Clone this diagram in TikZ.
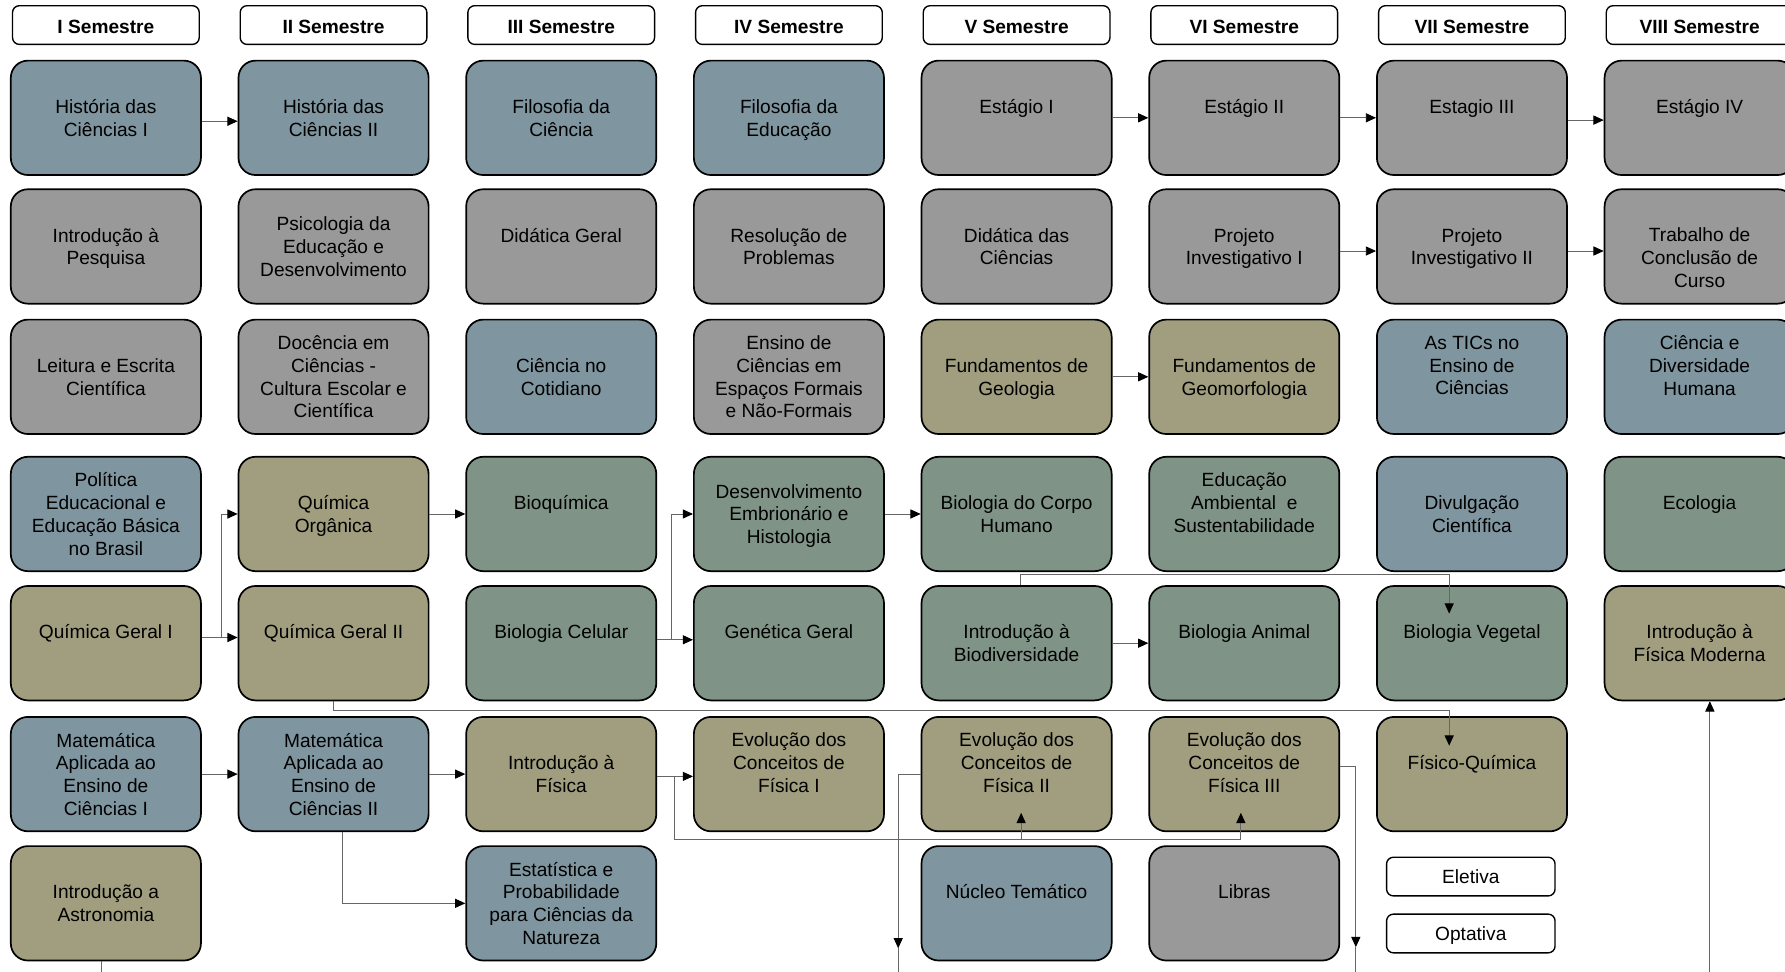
\documentclass[tikz,border=0pt]{standalone}
\usepackage{fontspec}
\setmainfont{Liberation Sans}
\usetikzlibrary{arrows.meta}

\definecolor{azul}{RGB}{127,149,159}
\definecolor{cinza}{RGB}{153,153,153}
\definecolor{oliva}{RGB}{160,158,126}
\definecolor{verde}{RGB}{127,148,135}

\tikzset{
  disc/.style={draw, fill=#1, line width=1.5pt, rounded corners=15pt,
    minimum width=167pt, minimum height=100.5pt, inner sep=0pt,
    align=center, font=\fontsize{16.8}{20}\selectfont,
    text depth=-4pt},
  semestre/.style={draw, fill=white, line width=1.2pt, rounded corners=6pt,
    minimum width=164pt, minimum height=34pt, inner sep=0pt,
    text height=14.2pt, text depth=0pt,
    font=\fontsize{16.8}{20}\selectfont\bfseries},
  legenda/.style={draw, fill=white, line width=1.2pt, rounded corners=6pt,
    minimum width=148pt, minimum height=34pt, inner sep=0pt,
    text height=12.5pt, text depth=0pt,
    font=\fontsize{16.8}{20}\selectfont},
  seta/.style={draw=black!60, line width=0.8pt,
    -{Triangle[length=9pt,width=8pt,color=black]}},
  fio/.style={draw=black!60, line width=0.8pt}
}

\begin{document}
\begin{tikzpicture}[x=1pt, y=-1pt]
      \useasboundingbox (0,0) rectangle (1568,853);
      \clip (0,0) rectangle (1568,853);
      % semestres
      \node[semestre] (sem1) at (93,22) {I Semestre};
      \node[semestre] (sem2) at (293,22) {II Semestre};
      \node[semestre] (sem3) at (493,22) {III Semestre};
      \node[semestre] (sem4) at (693,22) {IV Semestre};
      \node[semestre] (sem5) at (893,22) {V Semestre};
      \node[semestre] (sem6) at (1093,22) {VI Semestre};
      \node[semestre] (sem7) at (1293,22) {VII Semestre};
      \node[semestre] (sem8) at (1493,22) {VIII Semestre};
      % linha 1
      \node[disc=azul] (hist1) at (93,103.5) {História das\\Ciências I};
      \node[disc=azul] (hist2) at (293,103.5) {História das\\Ciências II};
      \node[disc=azul] (filc) at (493,103.5) {Filosofia da\\Ciência};
      \node[disc=azul] (filed) at (693,103.5) {Filosofia da\\Educação};
      \node[disc=cinza] (est1) at (893,103.5) {Estágio I\\~};
      \node[disc=cinza] (est2) at (1093,103.5) {Estágio II\\~};
      \node[disc=cinza] (est3) at (1293,103.5) {Estagio III\\~};
      \node[disc=cinza] (est4) at (1493,103.5) {Estágio IV\\~};
      % linha 2
      \node[disc=cinza] (intpesq) at (93,216.5) {Introdução à\\Pesquisa};
      \node[disc=cinza] (psico) at (293,216.5) {Psicologia da\\Educação e\\Desenvolvimento};
      \node[disc=cinza] (didger) at (493,216.5) {Didática Geral\\~};
      \node[disc=cinza] (resol) at (693,216.5) {Resolução de\\Problemas};
      \node[disc=cinza] (didcie) at (893,216.5) {Didática das\\Ciências};
      \node[disc=cinza] (proj1) at (1093,216.5) {Projeto\\Investigativo I};
      \node[disc=cinza] (proj2) at (1293,216.5) {Projeto\\Investigativo II};
      \node[disc=cinza] (tcc) at (1493,216.5) {\vphantom{T}\\Trabalho de\\Conclusão de\\Curso};
      % linha 3
      \node[disc=cinza] (leit) at (93,331) {Leitura e Escrita\\Científica};
      \node[disc=cinza] (doc) at (293,331) {Docência em\\Ciências -\\Cultura Escolar e\\Científica};
      \node[disc=azul] (cotid) at (493,331) {Ciência no\\Cotidiano};
      \node[disc=cinza] (espac) at (693,331) {Ensino de\\Ciências em\\Espaços Formais\\e Não-Formais};
      \node[disc=oliva] (geol) at (893,331) {Fundamentos de\\Geologia};
      \node[disc=oliva] (geom) at (1093,331) {Fundamentos de\\Geomorfologia};
      \node[disc=azul] (tics) at (1293,331) {As TICs no\\Ensino de\\Ciências\\~};
      \node[disc=azul] (divers) at (1493,331) {Ciência e\\Diversidade\\Humana\\~};
      % linha 4
      \node[disc=azul] (polit) at (93,451.5) {Política\\Educacional e\\Educação Básica\\no Brasil};
      \node[disc=oliva] (qorg) at (293,451.5) {Química\\Orgânica};
      \node[disc=verde] (bioq) at (493,451.5) {Bioquímica\\~};
      \node[disc=verde] (desemb) at (693,451.5) {Desenvolvimento\\Embrionário e\\Histologia};
      \node[disc=verde] (corpo) at (893,451.5) {Biologia do Corpo\\Humano};
      \node[disc=verde] (eamb) at (1093,451.5) {Educação\\Ambiental~ e\\Sustentabilidade\\~};
      \node[disc=azul] (divulg) at (1293,451.5) {Divulgação\\Científica};
      \node[disc=verde] (ecol) at (1493,451.5) {Ecologia\\~};
      % linha 5
      \node[disc=oliva] (qg1) at (93,565) {Química Geral I\\~};
      \node[disc=oliva] (qg2) at (293,565) {Química Geral II\\~};
      \node[disc=verde] (biocel) at (493,565) {Biologia Celular\\~};
      \node[disc=verde] (genet) at (693,565) {Genética Geral\\~};
      \node[disc=verde] (biodiv) at (893,565) {Introdução à\\Biodiversidade};
      \node[disc=verde] (bioani) at (1093,565) {Biologia Animal\\~};
      \node[disc=verde] (biovege) at (1293,565) {Biologia Vegetal\\~};
      \node[disc=oliva] (fismod) at (1493,565) {Introdução à\\Física Moderna};
      % linha 6
      \node[disc=azul] (mat1) at (93,680) {Matemática\\Aplicada ao\\Ensino de\\Ciências I};
      \node[disc=azul] (mat2) at (293,680) {Matemática\\Aplicada ao\\Ensino de\\Ciências II};
      \node[disc=oliva] (intfis) at (493,680) {Introdução à\\Física};
      \node[disc=oliva] (evf1) at (693,680) {Evolução dos\\Conceitos de\\Física I\\~};
      \node[disc=oliva] (evf2) at (893,680) {Evolução dos\\Conceitos de\\Física II\\~};
      \node[disc=oliva] (evf3) at (1093,680) {Evolução dos\\Conceitos de\\Física III\\~};
      \node[disc=oliva] (fisqui) at (1293,680) {Físico-Química\\~};
      % linha 7
      \node[disc=oliva] (astro) at (93,793.5) {Introdução a\\Astronomia};
      \node[disc=azul] (estat) at (493,793.5) {Estatística e\\Probabilidade\\para Ciências da\\Natureza};
      \node[disc=azul] (nucleo) at (893,793.5) {Núcleo Temático\\~};
      \node[disc=cinza] (libras) at (1093,793.5) {Libras\\~};
      % legenda
      \node[legenda] (eletiva) at (1292,770) {Eletiva};
      \node[legenda] (optativa) at (1292,820) {Optativa};
      % pontas que saem do quadro
      \coordinate (saida1) at (789,833);
      \coordinate (saida2) at (1191,832);
      \coordinate (entrada) at (1502,870);
      % pre-requisitos
      \draw[seta] ([yshift=-3]hist1.east) -- ([yshift=-3]hist2.west);
      \draw[seta] (est1.east) -- (est2.west);
      \draw[seta] (est2.east) -- (est3.west);
      \draw[seta] ([yshift=-2]est3.east) -- ([yshift=-2]est4.west);
      \draw[seta] ([yshift=-4]proj1.east) -- ([yshift=-4]proj2.west);
      \draw[seta] ([yshift=-4]proj2.east) -- ([yshift=-4]tcc.west);
      \draw[seta] (geol.east) -- (geom.west);
      \draw[seta] ([yshift=5]qg1.east) -- ([yshift=5]qg2.west);
      \draw[seta] ([yshift=5]qg1.east) -- ++(17,0) |- (qorg.west);
      \draw[seta] (qorg.east) -- (bioq.west);
      \draw[seta] ([yshift=3]biocel.east) -- ([yshift=3]genet.west);
      \draw[seta] ([yshift=3]biocel.east) -- ++(13,0) |- (desemb.west);
      \draw[seta] (desemb.east) -- (corpo.west);
      \draw[seta] (biodiv.east) -- (bioani.west);
      \draw[seta] ([xshift=3]biodiv.north) -- ++(0,-9) -| ([xshift=-20,yshift=-25]biovege.north);
      \draw[seta] (qg2.south) -- ++(0,8) -| ([xshift=-20,yshift=-26]fisqui.north);
      \draw[seta] (mat1.east) -- (mat2.west);
      \draw[seta] (mat2.east) -- (intfis.west);
      \draw[seta] ([xshift=8]mat2.south) |- (estat.west);
      \draw[seta] ([yshift=-2]intfis.east) -- ([yshift=-2]evf1.west);
      \draw[seta] ([yshift=-2]intfis.east) -- ++(15,0) -- ++(0,55) -| ([xshift=-3,yshift=17]evf3.south);
      \draw[seta] ([xshift=4,yshift=-7]evf2.south) -- ([xshift=4,yshift=17]evf2.south);
      \draw[seta] (evf2.west) -| (saida1);
      \draw[fio] (saida1) -- ++(0,30);
      \draw[seta] ([yshift=7]evf3.east) -| (saida2);
      \draw[fio] (saida2) -- ++(0,30);
      \draw[fio] ([xshift=-4]astro.south) -- ++(0,20);
      \draw[seta] (entrada) -- ([xshift=9]fismod.south);
\end{tikzpicture}
\end{document}
